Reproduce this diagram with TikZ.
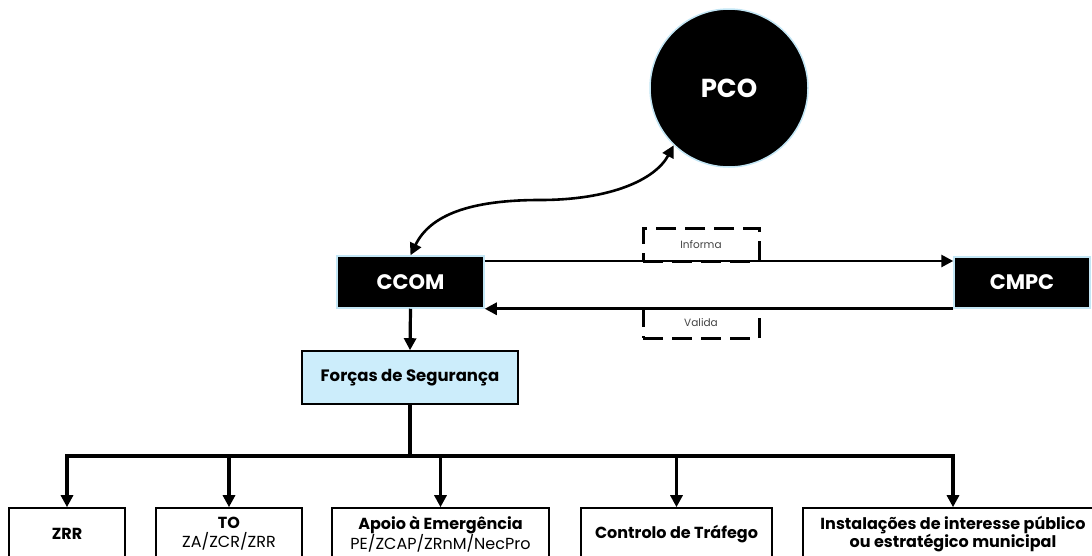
\documentclass[tikz,border=0pt]{standalone}
\usepackage{fontspec}
\setmainfont{Poppins}
\usetikzlibrary{arrows.meta,positioning}
\definecolor{paleblue}{HTML}{CCEDFB}
\definecolor{edgeblue}{HTML}{C3E6F5}
\definecolor{txtgrey}{HTML}{444444}

\begin{document}
\begin{tikzpicture}[x=1pt,y=-1pt]
\tikzstyle {blk}=[rectangle, fill=black, draw=edgeblue, line width=1.5pt, text=white, inner sep=0pt, font=\bfseries\fontsize{21}{24}\selectfont]
\tikzstyle {sq1}=[rectangle, draw=black, line width=1.6pt, inner sep=0pt, align=center, font=\fontsize{16}{19}\selectfont]
\tikzstyle {dsh}=[rectangle, draw=black, line width=3pt, dash pattern=on 20pt off 9pt, inner sep=0pt, text=txtgrey, font=\fontsize{10.5}{12}\selectfont]
\tikzstyle {arr}=[line width=2.8pt, -{Triangle[length=12pt,width=12pt]}]
\tikzstyle {arr3}=[arr, line width=3.2pt]
\useasboundingbox (0,0) rectangle (1092,555);
\clip (0,0) rectangle (1092,555);
\node (pco) [blk, circle, minimum size=158pt, font=\bfseries\fontsize{26}{30}\selectfont] at (729,88) {PCO};
\node (ccom) [blk, minimum width=147pt, minimum height=52pt] at (410.5,282) {CCOM};
\node (cmpc) [blk, minimum width=136pt, minimum height=51pt] at (1022,282.5) {CMPC};
\node (inf) [dsh, minimum width=116pt, minimum height=33pt] at (701,244.5) {Informa};
\node (val) [dsh, minimum width=116pt, minimum height=30pt] at (701,323) {Valida};
\node (seg) [sq1, fill=paleblue, minimum width=216pt, minimum height=53pt, font=\bfseries\fontsize{16.5}{19}\selectfont] at (410,377.5) {Forças de Segurança};
\node (zrr) [sq1, minimum width=116pt, minimum height=52pt] at (67,534) {\textbf{ZRR}};
\node (to) [sq1, minimum width=146pt, minimum height=52pt] at (229,534) {\textbf{TO}\\ZA/ZCR/ZRR};
\node (apoio) [sq1, minimum width=217pt, minimum height=52pt] at (440.5,534) {\textbf{Apoio à Emergência}\\PE/ZCAP/ZRnM/NecPro};
\node (traf) [sq1, minimum width=191pt, minimum height=52pt] at (676.5,534) {\textbf{Controlo de Tráfego}};
\node (inst) [sq1, minimum width=300pt, minimum height=52pt, font=\bfseries\fontsize{16}{16.5}\selectfont] at (953,534) {Instalações de interesse público\\ou estratégico municipal};
\coordinate (bus) at (410,456);
\draw[line width=2.6pt, {Triangle[length=12pt,width=12pt]}-{Triangle[length=12pt,width=12pt]}] (ccom.north) .. controls (430,215) and (470,200) .. (540,200) .. controls (610,200) and (655,180) .. (pco.226);
\draw[arr] ([yshift=21pt]ccom.east) -- ([yshift=21pt]ccom.east -| cmpc.west);
\draw[arr] (cmpc.south west) -- (ccom.south east);
\draw[arr3] (ccom.south) -- (seg.north);
\draw[line width=3.6pt] (seg.south) -- (bus);
\draw[arr3] (bus) -| (zrr.north);
\draw[arr3] (bus) -| (to.north);
\draw[arr3] (bus) -| (apoio.north);
\draw[arr3] (bus) -| (traf.north);
\draw[arr3] (bus) -| (inst.north);
\end{tikzpicture}
\end{document}
